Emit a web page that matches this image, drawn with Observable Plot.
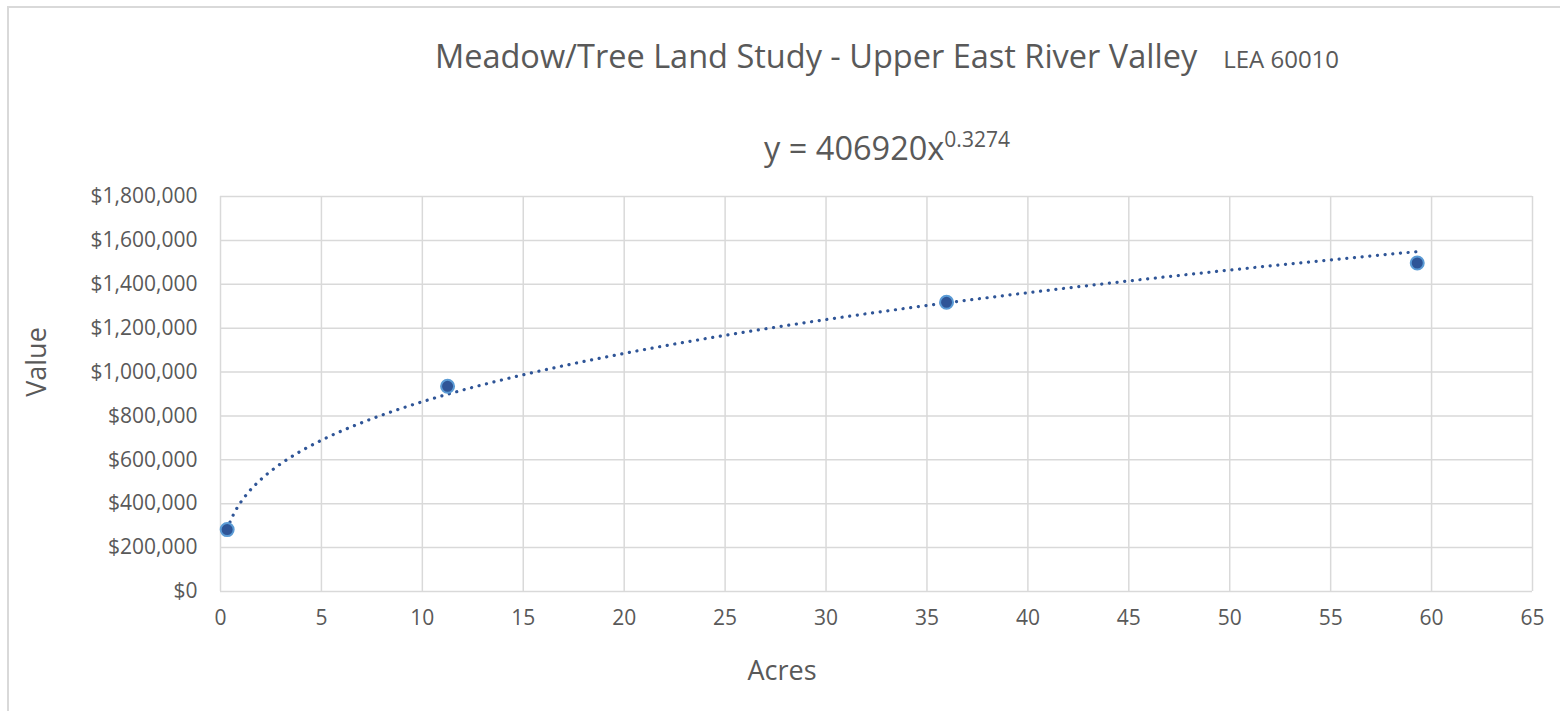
<!DOCTYPE html>
<html>
<head>
<meta charset="utf-8">
<script src="https://cdn.jsdelivr.net/npm/d3@7"></script>
<script src="https://cdn.jsdelivr.net/npm/@observablehq/plot@0.6"></script>
<style>
  html, body { margin: 0; padding: 0; background: #fff; }
  #wrap { position: relative; width: 1560px; height: 711px; overflow: hidden; font-family: "Open Sans", sans-serif; color: #595959; }
  #frame { position: absolute; left: 7px; top: 6px; width: 1600px; height: 800px; border-left: 2px solid #d9d9d9; border-top: 2px solid #d9d9d9; }
  .abs { position: absolute; white-space: nowrap; }
  #title { left: 887px; top: 34px; transform: translateX(-50%); font-size: 32.5px; line-height: 44px; }
  #title .sub { font-size: 24px; margin-left: 26px; }
  #eq { left: 887px; top: 126px; transform: translateX(-50%); font-size: 32.5px; line-height: 44px; }
  #eq sup { font-size: 21px; vertical-align: 0; position: relative; top: -13px; }
  #xlab { left: 782px; top: 651px; transform: translateX(-50%); font-size: 27px; }
  #ylab { left: 35px; top: 362px; transform: translate(-50%, -50%) rotate(-90deg); font-size: 27px; }
  #chart { position: absolute; left: 0; top: 170px; }
  #chart svg text { fill: #595959; }
</style>
</head>
<body>
<div id="wrap">
  <div id="frame"></div>
  <div class="abs" id="title"><span id="titleMain"></span><span class="sub" id="titleSub"></span></div>
  <div class="abs" id="eq"></div>
  <div class="abs" id="xlab"></div>
  <div class="abs" id="ylab"></div>
  <div id="chart"></div>
</div>
<script>
const titleText = "Meadow/Tree Land Study - Upper East River Valley";
const subtitleText = "LEA 60010";
const xLabel = "Acres";
const yLabel = "Value";

const acres = [0.33, 11.25, 35.97, 59.29];
const values = [282000, 935000, 1318000, 1497000];

// Power trendline coefficients shown on the chart
const trendA = 406920;
const trendB = 0.3274;

const xTicks = [0, 5, 10, 15, 20, 25, 30, 35, 40, 45, 50, 55, 60, 65];
const yTicks = [0, 200000, 400000, 600000, 800000, 1000000, 1200000, 1400000, 1600000, 1800000];

document.getElementById("titleMain").textContent = titleText;
document.getElementById("titleSub").textContent = subtitleText;
document.getElementById("eq").innerHTML = "y = " + trendA + "x<sup>" + trendB + "</sup>";
document.getElementById("xlab").textContent = xLabel;
document.getElementById("ylab").textContent = yLabel;

const points = acres.map((a, i) => ({acres: a, value: values[i]}));
const xMin = d3.min(acres), xMax = d3.max(acres);
const trend = d3.range(0, 301).map(i => {
  const x = xMin + (xMax - xMin) * i / 300;
  return {acres: x, value: trendA * Math.pow(x, trendB)};
});

const fmt = d3.format(",");
const chart = Plot.plot({
  width: 1560,
  height: 541,
  marginLeft: 220,
  marginRight: 28,
  marginTop: 26,
  marginBottom: 120,
  style: {fontFamily: "Open Sans, sans-serif", fontSize: "21px", color: "#595959", background: "transparent"},
  x: {domain: [0, 65]},
  y: {domain: [0, 1800000]},
  marks: [
    Plot.gridX(xTicks, {stroke: "#d9d9d9", strokeOpacity: 1, strokeWidth: 1.5}),
    Plot.gridY(yTicks, {stroke: "#d9d9d9", strokeOpacity: 1, strokeWidth: 1.5}),
    Plot.axisX(xTicks, {tickSize: 0, tickPadding: 19, label: null, fontSize: 21}),
    Plot.axisY(yTicks, {tickSize: 0, tickPadding: 23, label: null, fontSize: 21, tickFormat: d => "$" + fmt(d)}),
    Plot.line(trend, {x: "acres", y: "value", stroke: "#2f5597", strokeWidth: 3.2, strokeDasharray: "0.1 7.6", strokeLinecap: "round"}),
    Plot.dot(points, {x: "acres", y: "value", r: 6.5, fill: "#2f5597", stroke: "#5b9bd5", strokeWidth: 2})
  ]
});
document.getElementById("chart").appendChild(chart);
</script>
</body>
</html>
